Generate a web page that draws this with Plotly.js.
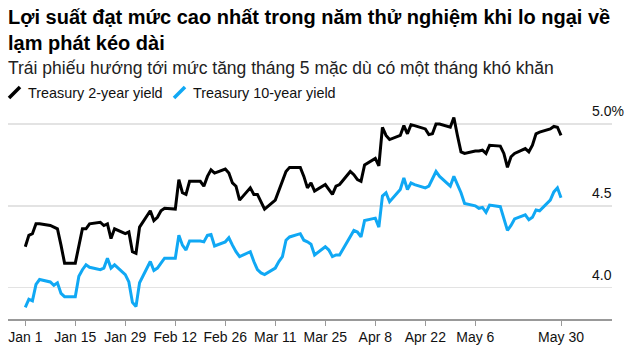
<!DOCTYPE html>
<html>
<head>
<meta charset="utf-8">
<script src="https://cdn.plot.ly/plotly-3.0.1.min.js"></script>
<style>
  html, body { margin: 0; padding: 0; background: #fff; }
  #chart { width: 627px; height: 353px; }
</style>
</head>
<body>
<div id="chart"></div>
<script>
// ---- data ----
const dates = [
  '2024-01-01','2024-01-02','2024-01-03','2024-01-04','2024-01-05','2024-01-08','2024-01-09','2024-01-10','2024-01-11','2024-01-12',
  '2024-01-15','2024-01-16','2024-01-17','2024-01-18','2024-01-19','2024-01-22','2024-01-23','2024-01-24','2024-01-25','2024-01-26',
  '2024-01-29','2024-01-30','2024-01-31',
  '2024-02-01','2024-02-02','2024-02-05','2024-02-06','2024-02-07','2024-02-08','2024-02-09','2024-02-12','2024-02-13','2024-02-14',
  '2024-02-15','2024-02-16','2024-02-19','2024-02-20','2024-02-21','2024-02-22','2024-02-23','2024-02-26','2024-02-27','2024-02-28',
  '2024-02-29',
  '2024-03-01','2024-03-04','2024-03-05','2024-03-06','2024-03-07','2024-03-08','2024-03-11','2024-03-12','2024-03-13','2024-03-14',
  '2024-03-15','2024-03-18','2024-03-19','2024-03-20','2024-03-21','2024-03-22','2024-03-25','2024-03-26','2024-03-27','2024-03-28',
  '2024-03-29',
  '2024-04-01','2024-04-02','2024-04-03','2024-04-04','2024-04-05','2024-04-08','2024-04-09','2024-04-10','2024-04-11','2024-04-12',
  '2024-04-15','2024-04-16','2024-04-17','2024-04-18','2024-04-19','2024-04-22','2024-04-23','2024-04-24','2024-04-25','2024-04-26',
  '2024-04-29','2024-04-30',
  '2024-05-01','2024-05-02','2024-05-03','2024-05-06','2024-05-07','2024-05-08','2024-05-09','2024-05-10','2024-05-13','2024-05-14',
  '2024-05-15','2024-05-16','2024-05-17','2024-05-20','2024-05-21','2024-05-22','2024-05-23','2024-05-24','2024-05-27','2024-05-28',
  '2024-05-29','2024-05-30'
];

const twoYear = [
  4.25,4.32,4.33,4.39,4.39,4.38,4.37,4.36,4.26,4.15,4.15,4.26,4.36,4.36,4.39,4.40,4.38,4.39,4.30,4.36,4.33,4.34,4.22,
  4.21,4.37,4.47,4.41,4.43,4.47,4.485,4.48,4.66,4.58,4.57,4.65,4.65,4.62,4.68,4.72,4.70,4.725,4.70,4.64,4.62,
  4.535,4.61,4.57,4.57,4.52,4.48,4.535,4.59,4.65,4.71,4.735,4.735,4.68,4.61,4.64,4.59,4.63,4.60,4.57,4.62,4.63,
  4.71,4.69,4.66,4.65,4.75,4.79,4.745,4.98,4.93,4.905,4.93,4.99,4.94,4.995,4.99,4.97,4.935,4.94,5.00,5.00,4.98,5.04,
  4.93,4.83,4.82,4.835,4.835,4.84,4.82,4.87,4.865,4.82,4.735,4.80,4.82,4.85,4.83,4.87,4.94,4.95,4.97,4.985,4.98,4.93
];

const tenYear = [
  3.88,3.93,3.92,4.02,4.05,4.035,4.015,4.03,3.965,3.945,3.945,4.07,4.11,4.14,4.125,4.11,4.12,4.18,4.12,4.14,4.08,4.035,3.91,
  3.885,4.03,4.16,4.105,4.12,4.15,4.18,4.18,4.32,4.26,4.23,4.285,4.285,4.28,4.32,4.325,4.255,4.28,4.305,4.26,4.22,
  4.19,4.22,4.16,4.11,4.09,4.08,4.12,4.16,4.19,4.29,4.31,4.33,4.29,4.28,4.265,4.20,4.25,4.23,4.19,4.20,4.20,
  4.315,4.35,4.34,4.31,4.41,4.425,4.37,4.56,4.58,4.525,4.60,4.67,4.60,4.64,4.63,4.61,4.62,4.67,4.71,4.68,4.62,4.68,
  4.63,4.58,4.515,4.50,4.485,4.49,4.46,4.505,4.495,4.425,4.35,4.38,4.42,4.445,4.415,4.43,4.475,4.47,4.535,4.585,4.61,4.55
];

const seriesNames = ['Treasury 2-year yield', 'Treasury 10-year yield'];
const xTickVals = ['2024-01-01','2024-01-15','2024-01-29','2024-02-12','2024-02-26','2024-03-11','2024-03-25','2024-04-08','2024-04-22','2024-05-06','2024-05-30'];
const xTickText = ['Jan 1','Jan 15','Jan 29','Feb 12','Feb 26','Mar 11','Mar 25','Apr 8','Apr 22','May 6','May 30'];
const yTickVals = [4.0, 4.5, 5.0];
const yTickText = ['4.0', '4.5', '5.0%'];

const titleText = 'Lợi suất đạt mức cao nhất trong năm thử nghiệm khi lo ngại về<br>lạm phát kéo dài';
const subtitleText = 'Trái phiếu hướng tới mức tăng tháng 5 mặc dù có một tháng khó khăn';

// ---- styles ----
const colors = ['#000000', '#10a8f4'];
const FONT = 'Liberation Sans, Arial, Helvetica, sans-serif';

const traces = [
  { x: dates, y: twoYear, name: seriesNames[0], type: 'scatter', mode: 'lines',
    line: { color: colors[0], width: 3 }, showlegend: false },
  { x: dates, y: tenYear, name: seriesNames[1], type: 'scatter', mode: 'lines',
    line: { color: colors[1], width: 3 }, showlegend: false }
];

// plot area: x 8..612, y 110..319
const W = 627, H = 353, L = 8, R = 15, T = 110, B = 34;
const pw = W - L - R, ph = H - T - B;
const px = v => (v - L) / pw;          // pixel -> paper x
const py = v => (H - B - v) / ph;      // pixel -> paper y

const annotations = [
  { text: '<b>' + titleText + '</b>', xref: 'paper', yref: 'paper', x: px(7), y: py(5), xanchor: 'left', yanchor: 'top',
    align: 'left', showarrow: false, font: { family: FONT, size: 20, color: '#000' }, borderpad: 0 },
  { text: subtitleText, xref: 'paper', yref: 'paper', x: px(7), y: py(68), xanchor: 'left', yanchor: 'middle',
    showarrow: false, font: { family: FONT, size: 17.5, color: '#222' }, borderpad: 0 },
  { text: seriesNames[0], xref: 'paper', yref: 'paper', x: px(27), y: py(93), xanchor: 'left', yanchor: 'middle',
    showarrow: false, font: { family: FONT, size: 14.4, color: '#111' }, borderpad: 0 },
  { text: seriesNames[1], xref: 'paper', yref: 'paper', x: px(192), y: py(93), xanchor: 'left', yanchor: 'middle',
    showarrow: false, font: { family: FONT, size: 14.4, color: '#111' }, borderpad: 0 }
];
yTickVals.forEach((v, i) => annotations.push({
  text: yTickText[i], xref: 'paper', yref: 'y', x: px(591), y: v, xanchor: 'left', yanchor: 'bottom',
  yshift: 4, showarrow: false, font: { family: FONT, size: 14, color: '#111' }, borderpad: 0
}));

const shapes = [
  { type: 'line', xref: 'paper', yref: 'paper', x0: px(9), y0: py(98), x1: px(20), y1: py(87),
    line: { color: colors[0], width: 3.5 } },
  { type: 'line', xref: 'paper', yref: 'paper', x0: px(174), y0: py(98), x1: px(185), y1: py(87),
    line: { color: colors[1], width: 3.5 } }
];

const layout = {
  width: W, height: H,
  margin: { l: L, r: R, t: T, b: B, pad: 0 },
  paper_bgcolor: '#fff', plot_bgcolor: '#fff',
  font: { family: FONT, color: '#111' },
  xaxis: {
    type: 'date', range: ['2023-12-27 03:50', '2024-06-13 06:40'],
    tickmode: 'array', tickvals: xTickVals, ticktext: xTickText,
    ticks: 'outside', ticklen: 5, tickwidth: 1, tickcolor: '#999',
    showline: true, linecolor: '#999', linewidth: 1.5,
    showgrid: false, zeroline: false,
    tickfont: { family: FONT, size: 14, color: '#111' }, fixedrange: true
  },
  yaxis: {
    range: [3.8088, 5.0855], tickmode: 'array', tickvals: yTickVals,
    showticklabels: false, ticks: '', showgrid: true, gridcolor: '#e3e3e3', gridwidth: 1.5,
    zeroline: false, showline: false, fixedrange: true
  },
  annotations: annotations,
  shapes: shapes,
  showlegend: false
};

Plotly.newPlot('chart', traces, layout, { displayModeBar: false, staticPlot: true });
</script>
</body>
</html>
